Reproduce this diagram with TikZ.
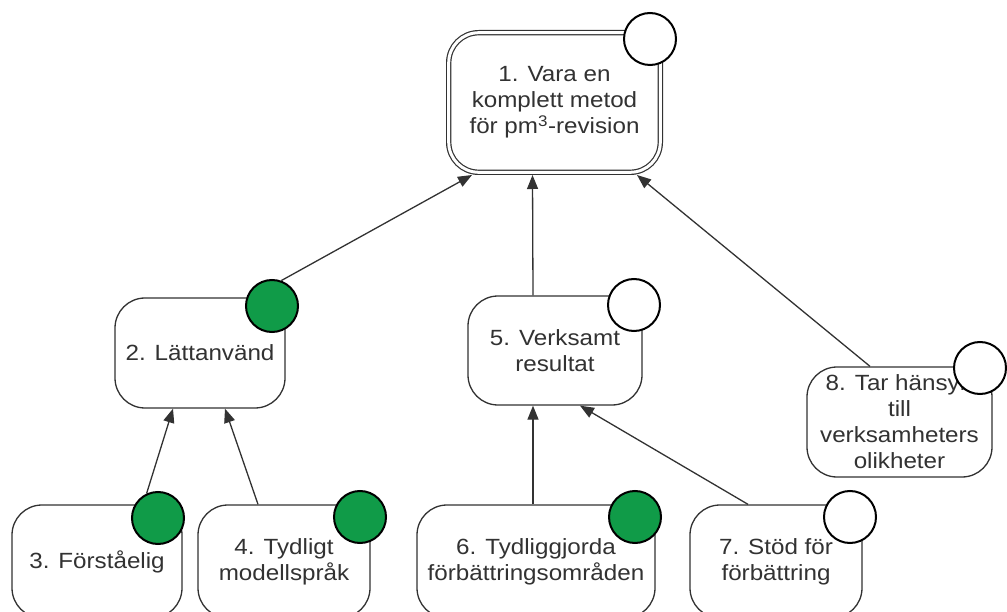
\documentclass[tikz,border=0pt]{standalone}
\usepackage{fontspec}
\setmainfont{Liberation Sans}[FakeStretch=1.1]
\usetikzlibrary{arrows.meta}
\definecolor{goalgreen}{RGB}{16,155,72}
\definecolor{ink}{RGB}{50,50,50}
\begin{document}
\begin{tikzpicture}[x=1pt,y=-1pt,
  goal/.style={draw=ink, line width=1.3pt, rounded corners=30pt, fill=white,
    align=center, inner sep=2pt, text=ink, font=\fontsize{22}{26}\selectfont},
  topgoal/.style={goal, double=white, double distance=3pt, line width=1.2pt,
    outer sep=2.7pt, rounded corners=30pt},
  status/.style={circle, draw=black, line width=2pt, minimum size=52pt, inner sep=0pt},
  done/.style={status, fill=goalgreen},
  open/.style={status, fill=white},
  link/.style={draw=ink, line width=1.3pt, -{Triangle[length=14pt,width=11pt]}}]

\useasboundingbox (0,0) rectangle (1007,612);

% goal boxes
\node[topgoal, minimum width=211.6pt, minimum height=139.6pt] (n1) at (554.5,102.5)
  {1. Vara en\\komplett metod\\för pm\textsuperscript{3}-revision};
\node[goal, minimum width=170pt, minimum height=110pt] (n2) at (200,353) {2. Lättanvänd};
\node[goal, minimum width=174pt, minimum height=109pt] (n5) at (555,350.5) {5. Verksamt\\resultat};
\node[goal, minimum width=185pt, minimum height=110pt] (n8) at (899.5,422)
  {8. Tar hänsyn\\till\\verksamheters\\olikheter};
\node[goal, minimum width=170pt, minimum height=113pt] (n3) at (97,561.5) {3. Förståelig};
\node[goal, minimum width=172pt, minimum height=113pt] (n4) at (284,561.5) {4. Tydligt\\modellspråk};
\node[goal, minimum width=238pt, minimum height=113pt] (n6) at (536,561.5)
  {6. Tydliggjorda\\förbättringsområden};
\node[goal, minimum width=172pt, minimum height=113pt] (n7) at (776,561.5) {7. Stöd för\\förbättring};

% status markers
\node[open] (c1) at (650,39) {};
\node[done] (c2) at (272,306) {};
\node[open] (c5) at (634,305) {};
\node[open] (c8) at (980,368) {};
\node[done] (c3) at (158,518) {};
\node[done] (c4) at (360,517) {};
\node[done] (c6) at (635,517) {};
\node[open] (c7) at (850,517) {};

% contributions
\draw[link] (c2.70) -- ([xshift=-82.5pt]n1.south);
\draw[link] ([xshift=-22pt]n5.north) -- ([xshift=-22pt]n1.south);
\draw[link] ([xshift=-29.5pt]n8.north) -- ([xshift=82.5pt]n1.south);
\draw[link] (c3.115) -- ([xshift=-27pt]n2.south);
\draw[link] ([xshift=-26pt]n4.north) -- ([xshift=25pt]n2.south);
\draw[link] ([xshift=-3pt]n6.north) -- ([xshift=-22pt]n5.south);
\draw[link] ([xshift=-28pt]n7.north) -- ([xshift=25pt]n5.south);
\end{tikzpicture}
\end{document}
